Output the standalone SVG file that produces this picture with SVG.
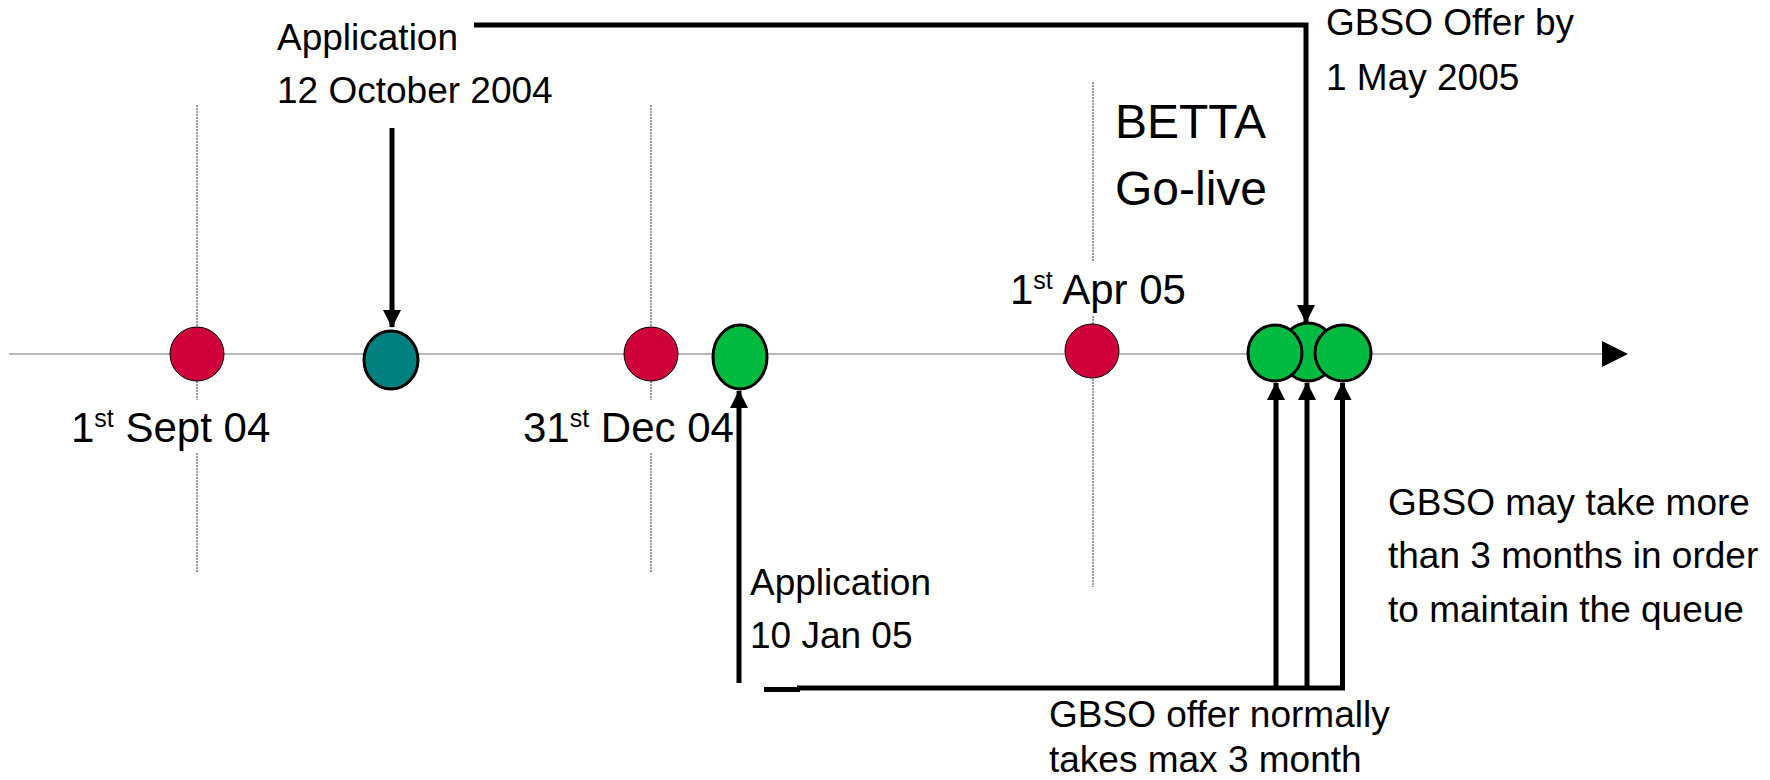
<svg xmlns="http://www.w3.org/2000/svg" width="1770" height="780" viewBox="0 0 1770 780">
<style>
text{font-family:"Liberation Sans",Arial,sans-serif;fill:#000}
.t{font-size:37px}
.d{font-size:42px}
.sup{font-size:25px}
.big{font-size:48px}
.axis{stroke:#a0a0a0;stroke-width:1.5;fill:none}
.grid{stroke:#333;stroke-width:1;stroke-dasharray:2 1;fill:none}
.red{fill:#D0003A;stroke:#000;stroke-width:1}
.teal{fill:#008080;stroke:#000;stroke-width:3}
.green{fill:#00BB3F;stroke:#000;stroke-width:3}
.conn{stroke:#000;stroke-width:5;fill:none}
.bg{fill:#fff}
</style>
<defs>
<marker id="ah" markerUnits="userSpaceOnUse" markerWidth="18" markerHeight="18" refX="17" refY="9" orient="auto">
<path d="M0,0 L18,9 L0,18 z" fill="#000"/>
</marker>
</defs>
<g id="timeline">
<line class="axis" x1="9" y1="354" x2="1604" y2="354"/>
<polygon points="1602,341 1628,354 1602,367" fill="#000"/>
</g>
<g id="gridlines">
<line class="grid" x1="197" y1="105" x2="197" y2="572"/>
<line class="grid" x1="651" y1="105" x2="651" y2="572"/>
<line class="grid" x1="1093" y1="82" x2="1093" y2="587"/>
</g>
<g id="label-sept">
<rect class="bg" x="68" y="400" width="206" height="52"/>
<text class="d" x="71" y="442">1<tspan class="sup" dy="-15">st</tspan><tspan dy="15"> Sept 04</tspan></text>
</g>
<g id="label-dec">
<rect class="bg" x="520" y="400" width="220" height="52"/>
<text class="d" x="523" y="442">31<tspan class="sup" dy="-15">st</tspan><tspan dy="15"> Dec 04</tspan></text>
</g>
<g id="label-apr">
<rect class="bg" x="1007" y="262" width="188" height="53"/>
<text class="d" x="1010" y="304">1<tspan class="sup" dy="-15">st</tspan><tspan dy="15"> Apr 05</tspan></text>
</g>
<g id="label-betta">
<text class="big" x="1115" y="138">BETTA</text>
<text class="big" x="1115" y="205">Go-live</text>
</g>
<g id="label-app1">
<text class="t" x="277" y="50">Application</text>
<text class="t" x="277" y="103">12 October 2004</text>
</g>
<g id="label-offer">
<text class="t" x="1326" y="35">GBSO Offer by</text>
<text class="t" x="1326" y="90">1 May 2005</text>
</g>
<g id="label-app2">
<text class="t" x="750" y="595">Application</text>
<text class="t" x="750" y="648">10 Jan 05</text>
</g>
<g id="label-more">
<text class="t" x="1388" y="515">GBSO may take more</text>
<text class="t" x="1388" y="568">than 3 months in order</text>
<text class="t" x="1388" y="622">to maintain the queue</text>
</g>
<g id="label-normal">
<text class="t" x="1049" y="727">GBSO offer normally</text>
<text class="t" x="1049" y="772">takes max 3 month</text>
</g>
<g id="node-sept"><ellipse class="red" cx="197" cy="354" rx="27" ry="27"/></g>
<g id="node-oct"><ellipse class="teal" cx="391" cy="360" rx="27" ry="29"/></g>
<g id="node-dec"><ellipse class="red" cx="651" cy="354" rx="27" ry="27"/></g>
<g id="node-jan"><ellipse class="green" cx="740" cy="357" rx="27" ry="32"/></g>
<g id="node-apr"><ellipse class="red" cx="1092" cy="351" rx="27" ry="27"/></g>
<g id="node-offer-mid"><ellipse class="green" cx="1308" cy="352" rx="27" ry="29"/></g>
<g id="node-offer-left"><ellipse class="green" cx="1275" cy="353" rx="27" ry="28"/></g>
<g id="node-offer-right"><ellipse class="green" cx="1343" cy="353" rx="28" ry="28"/></g>
<g id="connectors">
<polyline class="conn" points="474,25 1306,25 1306,322" marker-end="url(#ah)"/>
<line class="conn" x1="392" y1="128" x2="392" y2="327" marker-end="url(#ah)"/>
<line class="conn" x1="739" y1="683" x2="739" y2="391" marker-end="url(#ah)"/>
<line class="conn" x1="764" y1="689.5" x2="800" y2="689.5"/>
<line class="conn" x1="797" y1="688" x2="1345" y2="688"/>
<line class="conn" x1="1276" y1="690" x2="1276" y2="383" marker-end="url(#ah)"/>
<line class="conn" x1="1307" y1="690" x2="1307" y2="383" marker-end="url(#ah)"/>
<line class="conn" x1="1342.5" y1="690" x2="1342.5" y2="383" marker-end="url(#ah)"/>
</g>
</svg>
